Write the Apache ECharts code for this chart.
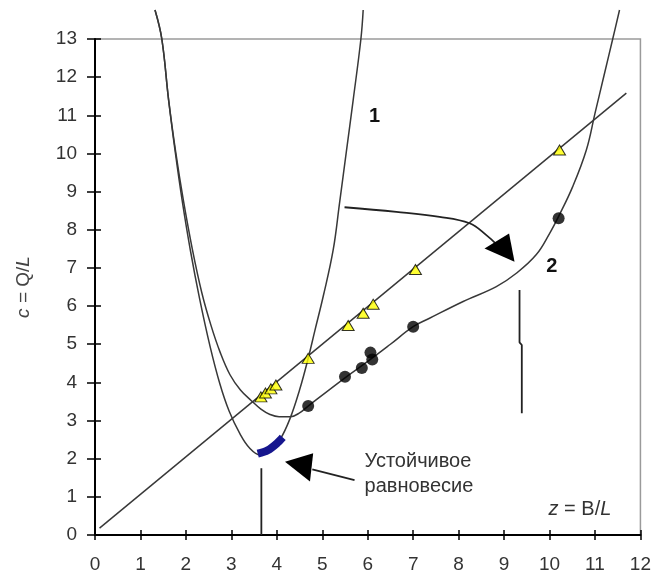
<!DOCTYPE html>
<html lang="ru" style="height: 100%">
<head>
  <meta charset="utf-8">
</head>
<body style="height: 100%; margin: 0; background: #fff">
  <div id="container" style="width: 654px; height: 575px"></div>
  <script src="https://cdn.jsdelivr.net/npm/echarts@6/dist/echarts.min.js"></script>
  <script>
    // curve 1 (narrow) and curve 2
    const curve1 = [
      [1.32, 13.76], [1.47, 13.0], [1.62, 11.4], [1.77, 10.0], [1.92, 8.75], [2.1, 7.45],
      [2.3, 6.2], [2.53, 4.95], [2.75, 3.95], [2.95, 3.25], [3.19, 2.65], [3.4, 2.28],
      [3.63, 2.1], [3.85, 2.2], [4.07, 2.5], [4.29, 3.05], [4.5, 3.8], [4.69, 4.63],
      [4.84, 5.37], [5.02, 6.25], [5.24, 7.47], [5.38, 8.7], [5.53, 10.05], [5.68, 11.4],
      [5.85, 13.0], [5.9, 13.76]
    ];
    const curve2 = [
      [1.32, 13.76], [1.47, 13.0], [1.62, 11.4], [1.78, 10.0], [1.94, 8.8], [2.14, 7.5],
      [2.35, 6.35], [2.55, 5.5], [2.75, 4.8], [2.97, 4.2], [3.2, 3.8], [3.44, 3.52],
      [3.65, 3.3], [3.85, 3.16], [4.05, 3.1], [4.3, 3.1], [4.5, 3.2], [4.69, 3.38],
      [5.5, 4.12], [6.0, 4.55], [6.5, 5.0], [7.0, 5.46], [7.36, 5.68], [8.1, 6.12],
      [8.83, 6.51], [9.27, 6.86], [9.71, 7.35], [10.0, 7.9], [10.2, 8.35], [10.51, 9.13],
      [10.81, 10.09], [11.0, 11.05], [11.2, 12.05], [11.39, 13.0], [11.54, 13.76]
    ];
    const diagonal = [[0.1, 0.18], [11.69, 11.58]];
    const triangles = [
      [3.65, 3.62], [3.75, 3.72], [3.87, 3.83], [3.98, 3.93], [4.69, 4.63],
      [5.57, 5.49], [5.9, 5.81], [6.12, 6.05], [7.05, 6.96], [10.22, 10.09]
    ];
    const circles = [
      [4.69, 3.38], [5.5, 4.15], [5.87, 4.38], [6.06, 4.78], [6.1, 4.6],
      [7.0, 5.46], [10.2, 8.3]
    ];
    const blueBand = [[3.58, 2.13], [3.8, 2.22], [4.0, 2.4], [4.13, 2.56]];
    const leftMarker = [[3.66, 0], [3.66, 1.75]];
    const rightMarker = [[9.34, 6.42], [9.34, 5.05], [9.39, 4.98], [9.39, 3.19]];
    const bendArrow = [[5.49, 8.59], [6.63, 8.47], [7.58, 8.34], [8.24, 8.17], [8.61, 7.86], [8.85, 7.6]];
    const noteArrow = [[4.78, 1.72], [5.71, 1.44]];
    const arrowHeads = [
      [8.57, 7.51, 9.11, 7.9, 9.23, 7.16],
      [4.18, 1.92, 4.8, 2.14, 4.73, 1.4]
    ];
    const labelTexts = ['1', '2', 'Устойчивое\nравновесие', '{i|z} = B/{i|L}'];
    const labelSpots = [[6.15, 10.96, 0], [10.05, 7.04, 1], [5.93, 1.59, 2], [11.36, 0.66, 3]];

    const font = '"Liberation Sans", Arial, sans-serif';
    const ink = '#383838';

    const chart = echarts.init(document.getElementById('container'), null, { renderer: 'canvas' });

    const baseX = { type: 'value', min: 0, max: 12, interval: 1, splitLine: { show: false } };
    const baseY = { type: 'value', min: 0, max: 13, interval: 1, splitLine: { show: false } };

    function curve(data, extra) {
      return Object.assign({
        type: 'line', data, symbol: 'none', clip: false, smooth: 0.4,
        lineStyle: { color: ink, width: 1.5 }, z: 3
      }, extra || {});
    }

    const option = {
      animation: false,
      grid: {
        left: 95, right: 13, top: 39, bottom: 40,
        show: true, borderColor: '#9a9a9a', borderWidth: 1.5
      },
      xAxis: [
        Object.assign({}, baseX, {
          position: 'bottom',
          axisLine: { onZero: false, lineStyle: { color: '#000', width: 2 } },
          axisTick: { length: 5, lineStyle: { color: '#000', width: 1.5 } },
          axisLabel: { margin: 20, fontSize: 19, fontFamily: font, color: '#333' }
        }),
        Object.assign({}, baseX, {
          position: 'bottom',
          axisLine: { show: false, onZero: false },
          axisTick: { inside: true, length: 5, lineStyle: { color: '#000', width: 1.5 } },
          axisLabel: { show: false }
        })
      ],
      yAxis: [
        Object.assign({}, baseY, {
          position: 'left',
          axisLine: { onZero: false, lineStyle: { color: '#000', width: 2 } },
          axisTick: { length: 8, lineStyle: { color: '#000', width: 1.5 } },
          axisLabel: { margin: 18, fontSize: 19, fontFamily: font, color: '#333' },
          name: '{i|c} = {r|Q}/{i|L}',
          nameLocation: 'middle',
          nameRotate: 90,
          nameGap: 62,
          nameTextStyle: {
            color: '#444',
            rich: {
              i: { fontStyle: 'italic', fontSize: 19, fontFamily: font, color: '#444' },
              r: { fontSize: 19, fontFamily: font, color: '#444' }
            },
            fontSize: 19, fontFamily: font
          }
        }),
        Object.assign({}, baseY, {
          position: 'left',
          axisLine: { show: false, onZero: false },
          axisTick: { inside: true, length: 6, lineStyle: { color: '#000', width: 1.5 } },
          axisLabel: { show: false }
        })
      ],
      series: [
        curve(diagonal, { smooth: false }),
        curve(curve1),
        curve(curve2),
        curve(leftMarker, { smooth: false, lineStyle: { color: '#222', width: 1.8 } }),
        curve(rightMarker, { smooth: false, lineStyle: { color: '#222', width: 1.8 } }),
        curve(bendArrow, { smooth: 0.4, lineStyle: { color: '#222', width: 1.8 } }),
        curve(noteArrow, { smooth: false, lineStyle: { color: '#222', width: 1.8 } }),
        curve(blueBand, { smooth: 0.3, z: 4, lineStyle: { color: '#16168e', width: 8, cap: 'butt' } }),
        {
          type: 'custom',
          data: arrowHeads,
          z: 5,
          renderItem: function (params, api) {
            const pts = [];
            for (let k = 0; k < 3; k++) {
              pts.push(api.coord([api.value(2 * k), api.value(2 * k + 1)]));
            }
            return { type: 'polygon', shape: { points: pts }, style: { fill: '#000' } };
          }
        },
        {
          type: 'scatter',
          data: circles,
          symbol: 'circle',
          symbolSize: 12,
          itemStyle: { color: '#000' },
          z: 6
        },
        {
          type: 'scatter',
          data: triangles,
          symbol: 'triangle',
          symbolSize: [12, 10],
          itemStyle: { color: '#ffff00', borderColor: '#000', borderWidth: 1 },
          z: 7
        },
        {
          type: 'custom',
          data: labelSpots,
          z: 8,
          clip: false,
          renderItem: function (params, api) {
            const p = api.coord([api.value(0), api.value(1)]);
            const idx = api.value(2);
            const s = {
              text: labelTexts[idx], fill: '#222', fontFamily: font, fontSize: 20,
              align: 'center', verticalAlign: 'middle'
            };
            if (idx < 2) { s.fontWeight = 'bold'; s.fill = '#111'; }
            if (idx === 2) { s.align = 'left'; s.lineHeight = 25; s.fill = '#333'; }
            if (idx === 3) {
              s.align = 'right'; s.fontSize = 20; s.fill = '#333';
              s.rich = { i: { fontStyle: 'italic', fontSize: 20, fontFamily: font, fill: '#333' } };
            }
            return { type: 'text', x: p[0], y: p[1], style: s };
          }
        }
      ]
    };

    chart.setOption(option);
    window.addEventListener('resize', chart.resize);
  </script>
</body>
</html>
